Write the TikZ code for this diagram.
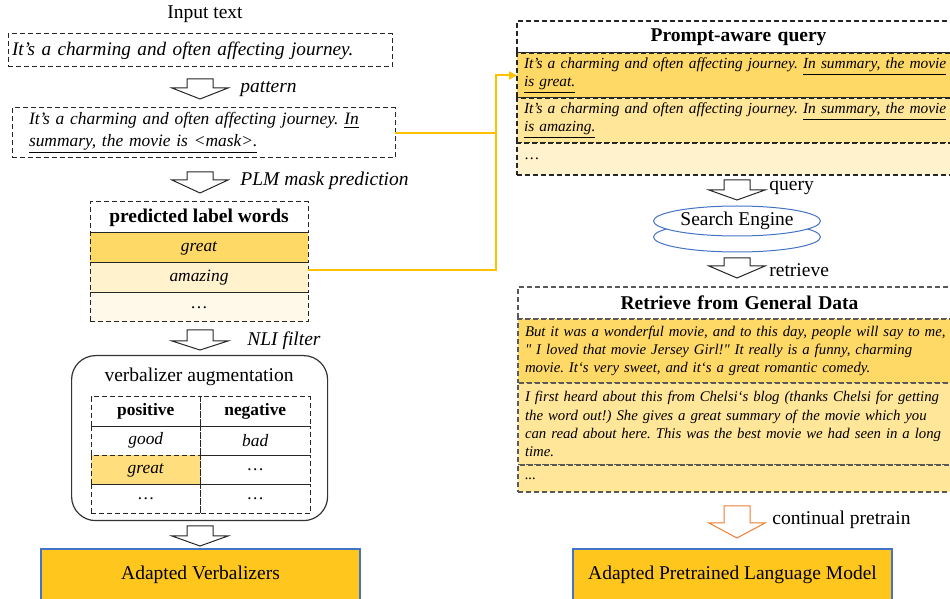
\documentclass[tikz,border=0pt]{standalone}
\usepackage{fontspec}
\setmainfont{Liberation Serif}
\usetikzlibrary{positioning,shapes.geometric,arrows.meta}
\frenchspacing

\definecolor{ylwdark}{HTML}{FFD966}
\definecolor{ylwmid}{HTML}{FFE699}
\definecolor{ylwlight}{HTML}{FFF2CC}
\definecolor{ylwpale}{HTML}{FFF9EA}
\definecolor{gold}{HTML}{FFC71E}
\definecolor{outblue}{HTML}{4472C4}
\definecolor{linkorange}{HTML}{FFC000}
\definecolor{pretrainorange}{HTML}{ED7D31}

\newcommand{\basesz}{\fontsize{9.75}{12}\selectfont}
\newcommand{\smallsz}{\fontsize{8.7}{11}\selectfont}
\newcommand{\tinysz}{\fontsize{7.7}{9.1}\selectfont}
\newcommand{\retrsz}{\fontsize{7.4}{9.1}\selectfont}

% hollow block arrow: [style]{top centre}{shaft length}{total length}
\newcommand{\blockarrow}[4][]{%
  \draw[blockarr,#1] (#2) ++(-13,0) -- ++(26,0) -- ++(0,#3) -- ++(15,0)
    -- ++(-28,{#4-#3}) -- ++(-28,{#3-#4}) -- ++(15,0) -- cycle;}

\begin{document}
\begin{tikzpicture}[x=0.5pt, y=-0.5pt, font=\basesz,
    dbox/.style={draw=black!85, dash pattern=on 2.5pt off 1.5pt, line width=0.5pt,
        inner sep=0pt, outer sep=0pt},
    lbl/.style={inner sep=0pt, anchor=west},
    lwrow/.style={dbox, minimum width=109pt, minimum height=15pt, font=\smallsz\itshape},
    vcell/.style={dbox, minimum width=54.75pt, minimum height=14.6pt, font=\smallsz},
    qhead/.style={dbox, line width=0.6pt, minimum width=221.5pt, text width=214.5pt,
        inner xsep=3.5pt, align=center, font=\basesz\bfseries, minimum height=16pt},
    qrow/.style={dbox, line width=0.6pt, minimum width=221.5pt, text width=240pt,
        inner xsep=3.5pt, align=left, font=\tinysz\itshape},
    stack/.style={below=0pt of #1, anchor=north west},
    engine/.style={ellipse, draw=outblue, line width=0.5pt, fill=white, inner sep=0pt,
        minimum width=83.5pt, minimum height=15pt},
    outbox/.style={draw=outblue, fill=gold, line width=0.6pt, minimum width=159.5pt,
        minimum height=25.5pt},
    blockarr/.style={draw=black!85, line width=0.5pt, fill=white},
    link/.style={draw=linkorange, line width=1pt},
  ]
  \useasboundingbox (0,0) rectangle (950,599);

  % left column: prompting
  \node (intitle) at (205,14) {Input text};
  \node[dbox, anchor=north west, text width=188pt, inner xsep=2pt, minimum height=16.5pt,
      align=left, font=\fontsize{9.6}{12}\selectfont\itshape] (inbox) at (8,34)
      {It’s a charming and often affecting journey.};
  \blockarrow{200,79}{9}{20}
  \node[lbl] (patlbl) at (240,89) {\itshape pattern};
  \node[dbox, anchor=north west, text width=174.5pt, inner xsep=8.5pt, minimum height=25pt,
      align=left, font=\smallsz\itshape] (promptbox) at (12,108)
      {It’s a charming and often affecting journey. \underline{In}\\\underline{summary, the movie is <mask>.}};
  \blockarrow{200,172}{8}{21}
  \node[lbl] (plmlbl) at (240,181) {\itshape PLM mask prediction};

  % predicted label words
  \node[lwrow, anchor=north, font=\basesz\bfseries, minimum height=15.5pt] (lwhead) at (199,202)
      {predicted label words};
  \node[lwrow, below=0pt of lwhead, fill=ylwdark] (lwgreat) {great};
  \node[lwrow, below=0pt of lwgreat, fill=ylwlight] (lwamazing) {amazing};
  \node[lwrow, below=0pt of lwamazing, fill=ylwpale, font=\smallsz, minimum height=14.5pt] (lwdots) {\ldots};
  \blockarrow{200,330}{11}{20}
  \node[lbl] (nlilbl) at (247,341) {\itshape NLI filter};

  % verbalizer augmentation
  \node[draw=black!80, line width=0.6pt, rounded corners=12pt, minimum width=128pt,
      minimum height=82.5pt, anchor=north west] (vbox) at (71,355) {};
  \node (vtitle) at (199,377) {verbalizer augmentation};
  \node[vcell, anchor=north west, font=\smallsz\bfseries] (vposh) at (91,397) {positive};
  \node[vcell, right=0pt of vposh, font=\smallsz\bfseries] (vnegh) {negative};
  \node[vcell, below=0pt of vposh, font=\smallsz\itshape] (vpos1) {good};
  \node[vcell, below=0pt of vnegh, font=\smallsz\itshape] (vneg1) {bad};
  \node[vcell, below=0pt of vpos1, font=\smallsz\itshape, fill=ylwdark!85] (vpos2) {great};
  \node[vcell, below=0pt of vneg1] (vneg2) {\ldots};
  \node[vcell, below=0pt of vpos2] (vpos3) {\ldots};
  \node[vcell, below=0pt of vneg2] (vneg3) {\ldots};
  \blockarrow{200,526}{10}{20}
  \node[outbox] (verbout) at (200.5,574.5) {Adapted Verbalizers};

  % right column: prompt-aware query
  \node[qhead, anchor=north west] (pqhead) at (517,21) {Prompt-aware query};
  \node[qrow, stack=pqhead.south west, minimum height=22.5pt, fill=ylwdark] (pq1)
      {It’s a charming and often affecting journey. \underline{In summary, the movie}\\\underline{is great.}};
  \node[qrow, stack=pq1.south west, minimum height=22.5pt, fill=ylwmid] (pq2)
      {It’s a charming and often affecting journey. \underline{In summary, the movie}\\\underline{is amazing.}};
  \node[qrow, stack=pq2.south west, minimum height=16pt, fill=ylwlight, font=\tinysz] (pq3) {\ldots};

  % label words feed the query
  \coordinate (linkx) at (496,0);
  \draw[link] (promptbox.east) -- (promptbox.east -| linkx);
  \draw[link, -{Triangle[length=4pt, width=4pt]}] (lwamazing.east) ++(0,-8) -| (linkx |- pq1.west) -- (pq1.west);

  % search engine
  \blockarrow{737,180}{10}{20}
  \node[lbl] (querylbl) at (769,188) {query};
  \node[engine] (enginelow) at (737,237) {};
  \node[engine] (engine) at (737,221) {Search Engine};
  \blockarrow{737,258}{8}{20}
  \node[lbl] (retrlbl) at (769,270) {retrieve};

  % retrieved general data
  \node[qhead, draw=black!65, anchor=north west] (rdhead) at (518,287)
      {Retrieve from General Data};
  \node[qrow, draw=black!65, stack=rdhead.south west, minimum height=32pt, fill=ylwdark,
      font=\retrsz\itshape] (rd1)
      {But it was a wonderful movie, and to this day, people will say to me,\\\textquotedbl{} I loved that movie Jersey Girl!\textquotedbl{} It really is a funny, charming\\movie. It‘s very sweet, and it‘s a great romantic comedy.};
  \node[qrow, draw=black!65, stack=rd1.south west, minimum height=41pt, fill=ylwmid,
      font=\retrsz\itshape] (rd2)
      {I first heard about this from Chelsi‘s blog (thanks Chelsi for getting\\the word out!) She gives a great summary of the movie which you\\can read about here. This was the best movie we had seen in a long\\time.};
  \node[qrow, draw=black!65, stack=rd2.south west, minimum height=13.5pt, fill=ylwmid,
      font=\retrsz\itshape] (rd3) {...};
  \blockarrow[draw=pretrainorange]{737,506}{17}{32}
  \node[lbl] (cplbl) at (772,520) {continual pretrain};
  \node[outbox] (plmout) at (732.5,574.5) {Adapted Pretrained Language Model};
\end{tikzpicture}
\end{document}
